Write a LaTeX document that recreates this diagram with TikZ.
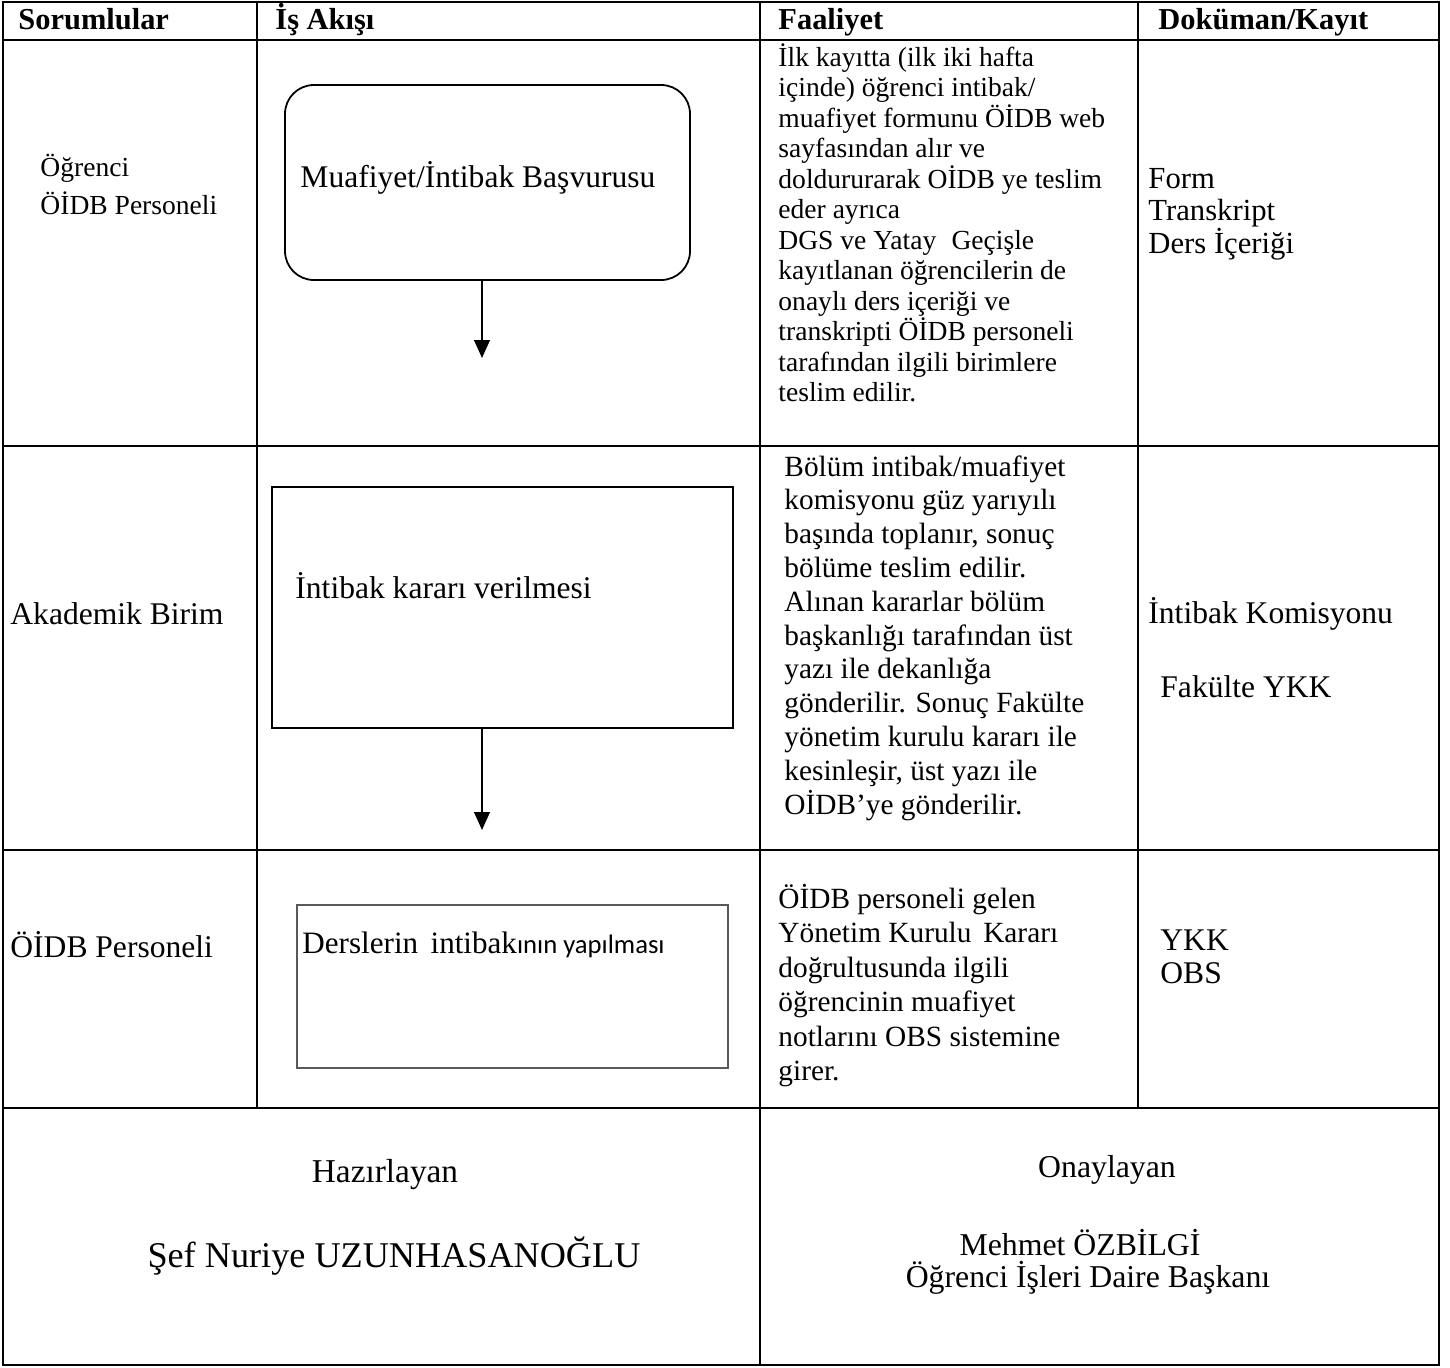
\documentclass[tikz,border=0pt]{standalone}
\usepackage{fontspec}
\setmainfont{Liberation Serif}
\newfontfamily\boxsans{Carlito}
\usetikzlibrary{arrows.meta,positioning}

\def\px{0.45pt}
\newcommand\fs[1]{\fontsize{#1}{#1}\selectfont}
\tikzset{
  gridline/.style={line width=1.3pt},
  head/.style={font=\bfseries\fs{13.7}, anchor=base west, inner sep=0pt},
  cell/.style={font=\fs{14.2}, anchor=base west, inner sep=0pt},
  small/.style={cell, font=\fs{12.4}},
  note/.style={cell, font=\fs{13.2}},
  sign/.style={font=\fs{14.3}, inner sep=0pt},
  flowbox/.style={draw, line width=0.8pt, minimum width=#1},
  flowarrow/.style={line width=0.8pt, -{Triangle[width=7pt,length=8pt]}},
}

\begin{document}
\begin{tikzpicture}[x=\px, y=-\px]
  \useasboundingbox (0,0) rectangle (1450,1367);

  % table frame
  \draw[gridline] (3,2) rectangle (1439,1365);
  \draw[gridline] (3,40) -- (1439,40);
  \draw[gridline] (3,446) -- (1439,446);
  \draw[gridline] (3,850) -- (1439,850);
  \draw[gridline] (3,1108) -- (1439,1108);
  \draw[gridline] (257,2) -- (257,1108);
  \draw[gridline] (760,2) -- (760,1365);
  \draw[gridline] (1138,2) -- (1138,1108);

  % header
  \node[head] (hsor) at (18,29) {Sorumlular};
  \node[head] (hakis) at (275,29) {İş Akışı};
  \node[head] (hfaal) at (778,29) {Faaliyet};
  \node[head] (hdok) at (1158,29) {Doküman/Kayıt};

  % responsibles
  \node[small] (s1a) at (40,176) {Öğrenci};
  \node[small] (s1b) at (40,214) {ÖİDB Personeli};
  \node[cell] (s2) at (10,624) {Akademik Birim};
  \node[cell] (s3) at (10,957) {ÖİDB Personeli};

  % work flow
  \node[flowbox=405*\px, minimum height=195*\px, rounded corners=13pt] (box1) at (487.5,182.5) {};
  \node[cell] (box1t) at (300,187) {Muafiyet/İntibak Başvurusu};
  \coordinate (end1) at (482,358);
  \draw[flowarrow] (box1.south -| end1) -- (end1);

  \node[flowbox=461*\px, minimum height=241*\px] (box2) at (502.5,607.5) {};
  \node[cell] (box2t) at (295,598) {İntibak kararı verilmesi};
  \coordinate (end2) at (482,830);
  \draw[flowarrow] (box2.south -| end2) -- (end2);

  \node[flowbox=431*\px, minimum height=163*\px, draw=black!65, line width=0.6pt] (box3) at (512.5,986.5) {};
  \node[cell, font=\fs{14}] (box3t) at (302,953) {Derslerin\hspace{0.4em}intibak{\boxsans\fs{12}ının yapılması}};

  % activities
  \foreach \t [count=\i from 0] in {%
      {İlk kayıtta (ilk iki hafta},
      {içinde) öğrenci intibak/},
      {muafiyet formunu ÖİDB web},
      {sayfasından alır ve},
      {doldururarak OİDB ye teslim},
      {eder ayrıca},
      {DGS ve Yatay\hspace{0.3em} Geçişle},
      {kayıtlanan öğrencilerin de},
      {onaylı ders içeriği ve},
      {transkripti ÖİDB personeli},
      {tarafından ilgili birimlere},
      {teslim edilir.}}
    \node[small] (f1-\i) at (778,66+30.5*\i) {\t};

  \foreach \t [count=\i from 0] in {%
      {Bölüm intibak/muafiyet},
      {komisyonu güz yarıyılı},
      {başında toplanır, sonuç},
      {bölüme teslim edilir.},
      {Alınan kararlar bölüm},
      {başkanlığı tarafından üst},
      {yazı ile dekanlığa},
      {gönderilir. Sonuç Fakülte},
      {yönetim kurulu kararı ile},
      {kesinleşir, üst yazı ile},
      {OİDB’ye gönderilir.}}
    \node[note] (f2-\i) at (784,476+33.8*\i) {\t};

  \foreach \t [count=\i from 0] in {%
      {ÖİDB personeli gelen},
      {Yönetim Kurulu\hspace{0.15em} Kararı},
      {doğrultusunda ilgili},
      {öğrencinin muafiyet},
      {notlarını OBS sistemine},
      {girer.}}
    \node[note] (f3-\i) at (778,908+34.5*\i) {\t};

  % documents
  \node[cell, font=\fs{13.8}] (d1a) at (1148,188) {Form};
  \node[cell, font=\fs{13.8}] (d1b) at (1148,220) {Transkript};
  \node[cell, font=\fs{13.8}] (d1c) at (1148,253) {Ders İçeriği};
  \node[cell] (d2a) at (1148,623) {İntibak Komisyonu};
  \node[cell] (d2b) at (1160,697) {Fakülte YKK};
  \node[cell] (d3a) at (1160,950) {YKK};
  \node[cell] (d3b) at (1160,983) {OBS};

  % signatures
  \node[sign, font=\fs{15}] (haz) at (385,1175) {Hazırlayan};
  \node[sign, font=\fs{16.3}] (hazname) at (394,1256) {Şef Nuriye UZUNHASANOĞLU};
  \node[sign] (ona) at (1107,1170) {Onaylayan};
  \node[sign] (onaname) at (1080,1243) {Mehmet ÖZBİLGİ};
  \node[sign] (onatitle) at (1088,1278) {Öğrenci İşleri Daire Başkanı};
\end{tikzpicture}
\end{document}
